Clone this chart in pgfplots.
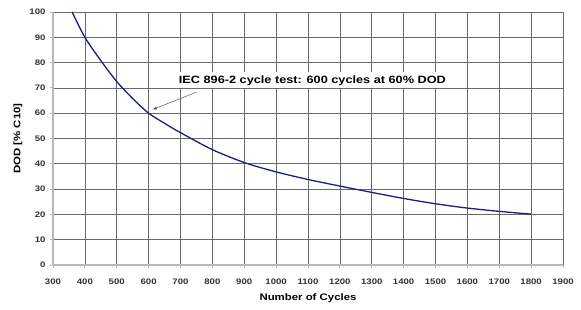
\documentclass[border=0pt]{standalone}
\usepackage{fontspec}
\setmainfont{Liberation Sans}[FakeStretch=1.2]
\usepackage{pgfplots}
\pgfplotsset{compat=1.18}
\usetikzlibrary{arrows.meta}
\definecolor{curve}{HTML}{1C1C8A}
\definecolor{gridc}{HTML}{6A6A6A}
\definecolor{axc}{HTML}{B8B8B8}
\begin{document}
\begin{tikzpicture}[x=1pt,y=1pt]
\path (-53pt,-45pt) rectangle (528pt,265pt);
\begin{axis}[
  at={(0pt,0pt)}, anchor=south west,
  scale only axis, width=510pt, height=253pt,
  xmin=300, xmax=1900, ymin=0, ymax=100,
  xtick={300,400,...,1900}, ytick={0,10,...,100},
  axis lines=left, axis line style={axc, line width=1.4pt, -},
  grid=major, major grid style={gridc, line width=0.6pt},
  tick align=outside, major tick length=3pt, tick style={axc, line width=0.8pt},
  /pgf/number format/assume math mode=true,
  /pgf/number format/1000 sep={},
  ticklabel style={font=\fontsize{8}{9}\selectfont\bfseries, text=black!80},
  xticklabel style={anchor=center, yshift=-14pt},
  yticklabel style={xshift=-1pt},
  xlabel={Number of Cycles}, ylabel={DOD [\% C10]},
  label style={font=\fontsize{9.5}{11}\selectfont\bfseries},
  xlabel style={at={(axis description cs:0.5,0)}, anchor=center, yshift=-33pt},
  ylabel style={at={(axis description cs:0,0.5)}, anchor=center, yshift=35pt},
  clip=false,
]
\addplot[curve, line width=1.3pt, smooth] coordinates {
(360,100) (400,90) (450,80.8) (500,72.5) (550,65.8) (600,60) (650,56) (700,52.3)
(800,45.6) (900,40.5) (1000,36.8) (1100,33.8) (1200,31.2) (1300,28.7)
(1400,26.3) (1500,24.2) (1600,22.5) (1700,21.2) (1800,20.1)};
\node[fill=white, anchor=west, inner xsep=3pt, inner ysep=3pt,
  font=\fontsize{10.6}{12}\selectfont\bfseries] at (axis cs:685,73) {IEC 896-2 cycle test: 600 cycles at 60\% DOD};
\draw[-{Latex[length=4pt,width=3.5pt]}, gray!70!black, line width=0.5pt] (axis cs:750,68.3) -- (axis cs:613,61.5);
\end{axis}
\end{tikzpicture}
\end{document}
